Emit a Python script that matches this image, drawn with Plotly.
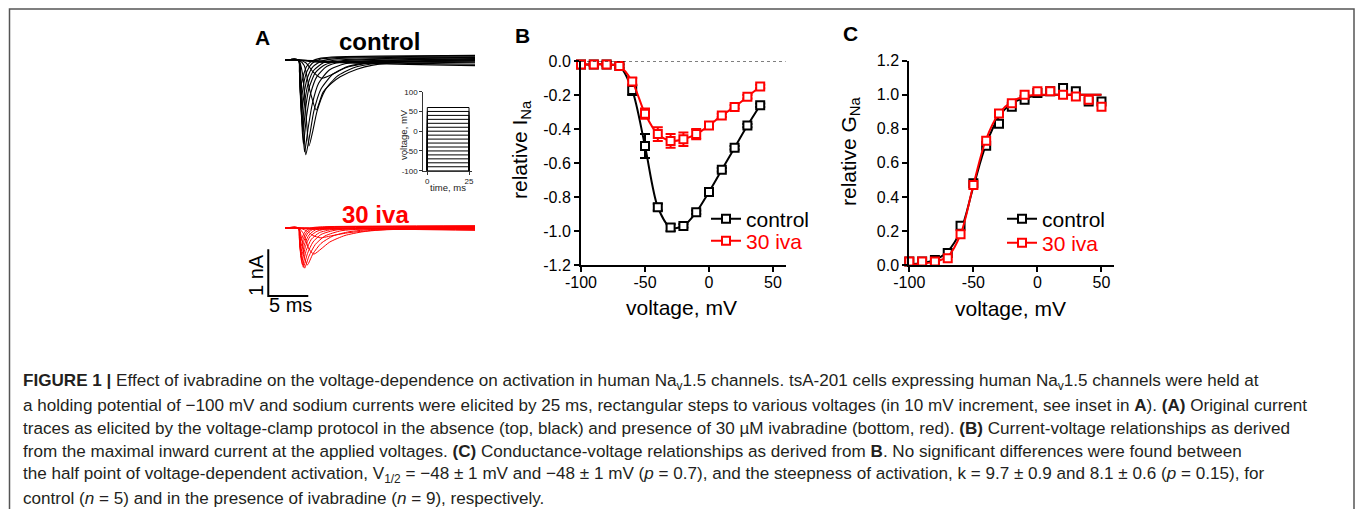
import plotly.graph_objects as go

# the page has no margin: the figure fills the 1355x509 window
PAGE_MARGIN = 0
FW, FH = 1355, 509
FONT = "Liberation Sans, Arial, Helvetica, sans-serif"
CAP_FONT = "Liberation Sans, Arial, sans-serif"
RED = "#ff0000"
BLACK = "#000000"

# ---------------- data ----------------
# Panel B: current-voltage relationship
VOLT_B = [-100, -90, -80, -70, -60, -50, -40, -30, -20, -10, 0, 10, 20, 30, 40]
I_CTRL = [-0.02, -0.02, -0.02, -0.03, -0.17, -0.50, -0.86, -0.98, -0.97, -0.89, -0.77, -0.64, -0.51, -0.38, -0.26]
I_CTRL_ERR = [0.01, 0.01, 0.01, 0.01, 0.03, 0.07, 0.02, 0.02, 0.01, 0.01, 0.01, 0.01, 0.01, 0.01, 0.01]
I_IVA = [-0.02, -0.02, -0.02, -0.03, -0.12, -0.31, -0.43, -0.47, -0.46, -0.43, -0.38, -0.32, -0.27, -0.21, -0.15]
I_IVA_ERR = [0.01, 0.01, 0.01, 0.01, 0.02, 0.03, 0.04, 0.04, 0.04, 0.03, 0.02, 0.01, 0.01, 0.01, 0.01]

# Panel C: conductance-voltage relationship
VOLT_C = [-100, -90, -80, -70, -60, -50, -40, -30, -20, -10, 0, 10, 20, 30, 40, 50]
G_CTRL = [0.02, 0.02, 0.03, 0.07, 0.23, 0.48, 0.70, 0.83, 0.93, 0.97, 1.01, 1.02, 1.04, 1.02, 0.96, 0.96]
G_IVA = [0.02, 0.02, 0.02, 0.04, 0.18, 0.47, 0.73, 0.89, 0.95, 1.00, 1.02, 1.02, 1.00, 0.99, 0.97, 0.93]
G_CTRL_FIT = [0.005, 0.012, 0.03, 0.08, 0.20, 0.46, 0.71, 0.87, 0.95, 0.98, 0.995, 1.0, 1.0, 1.0, 1.0, 1.0]
G_IVA_FIT = [0.003, 0.008, 0.02, 0.05, 0.18, 0.47, 0.74, 0.89, 0.96, 0.99, 1.0, 1.0, 1.0, 1.0, 1.0, 1.0]

B_YTICKS = [0.0, -0.2, -0.4, -0.6, -0.8, -1.0, -1.2]
B_YLABELS = ["0.0", "-0.2", "-0.4", "-0.6", "-0.8", "-1.0", "-1.2"]
C_YTICKS = [0.0, 0.2, 0.4, 0.6, 0.8, 1.0, 1.2]
C_YLABELS = ["0.0", "0.2", "0.4", "0.6", "0.8", "1.0", "1.2"]
V_TICKS = [-100, -50, 0, 50]
V_LABELS = ["-100", "-50", "0", "50"]

# Panel A inset: voltage protocol
STEP_VOLTAGES = [-100, -90, -80, -70, -60, -50, -40, -30, -20, -10, 0, 10, 20, 30, 40, 50, 60]
HOLDING_MV = -100
STEP_MS = 25
INSET_YTICKS = [-100, -50, 0, 50, 100]
INSET_YLABELS = ["-100", "-50", "0", "50", "100"]
INSET_XTICKS = [0, 25]

# Panel A: current traces (time in ms, current in nA), key points
CTRL_TRACES = {
    -100: [(0, 0), (1.7, 0), (6, -0.05), (23.75, -0.12)],
    -90: [(0, 0), (1.7, 0), (6, -0.04), (23.75, -0.09)],
    -80: [(0, 0), (1.7, 0), (6, -0.03), (23.75, -0.06)],
    -70: [(0, 0), (1.7, 0), (3, -0.03), (5, -0.05), (8, -0.03), (23.75, -0.04)],
    -60: [(0, 0), (1.7, 0), (2.6, -0.06), (3.6, -0.27), (4.6, -0.39), (6.0, -0.30), (7.5, -0.17), (10, -0.08), (13, -0.04), (23.75, -0.02)],
    -50: [(0, 0), (1.7, 0), (2.4, -0.12), (3.1, -0.65), (3.9, -1.07), (4.75, -0.69), (5.8, -0.50), (6.9, -0.36), (9, -0.20), (11, -0.11), (15, -0.04), (23.75, -0.01)],
    -40: [(0, 0), (1.7, 0), (2.2, -0.30), (2.6, -1.10), (3.0, -1.84), (3.5, -1.50), (4.0, -1.10), (5.0, -0.65), (6.5, -0.35), (8.5, -0.17), (11, -0.08), (15, -0.03), (23.75, 0.0)],
    -30: [(0, 0), (1.7, 0), (2.0, -0.40), (2.3, -1.30), (2.6, -2.03), (3.1, -1.60), (3.6, -1.10), (4.5, -0.62), (6.0, -0.30), (8.0, -0.13), (11, -0.05), (23.75, 0.01)],
    -20: [(0, 0), (1.7, 0), (1.95, -0.50), (2.2, -1.40), (2.45, -1.97), (2.9, -1.45), (3.4, -0.95), (4.2, -0.50), (5.5, -0.22), (7.5, -0.08), (10, -0.03), (23.75, 0.02)],
    -10: [(0, 0), (1.7, 0), (1.9, -0.60), (2.1, -1.35), (2.3, -1.80), (2.7, -1.20), (3.2, -0.72), (4.0, -0.35), (5.2, -0.14), (7.0, -0.05), (23.75, 0.03)],
    0: [(0, 0), (1.7, 0), (1.9, -0.60), (2.05, -1.15), (2.25, -1.54), (2.6, -1.00), (3.0, -0.60), (3.8, -0.27), (5.0, -0.10), (7.0, -0.02), (23.75, 0.05)],
    10: [(0, 0), (1.7, 0), (1.85, -0.50), (2.0, -1.00), (2.2, -1.28), (2.5, -0.85), (2.9, -0.50), (3.6, -0.22), (4.8, -0.06), (6.5, 0.0), (23.75, 0.06)],
    20: [(0, 0), (1.7, 0), (1.85, -0.45), (2.0, -0.85), (2.15, -1.03), (2.45, -0.65), (2.8, -0.38), (3.5, -0.14), (4.6, -0.02), (6.5, 0.03), (23.75, 0.07)],
    30: [(0, 0), (1.7, 0), (1.85, -0.35), (1.95, -0.60), (2.1, -0.75), (2.4, -0.45), (2.75, -0.24), (3.4, -0.07), (4.5, 0.02), (6.5, 0.05), (23.75, 0.09)],
    40: [(0, 0), (1.7, 0), (1.8, -0.25), (1.9, -0.42), (2.05, -0.51), (2.35, -0.30), (2.7, -0.14), (3.3, -0.03), (4.5, 0.04), (6.5, 0.07), (23.75, 0.10)],
}
IVA_TRACES = {
    -100: [(0, 0), (1.7, 0), (23.75, -0.05)],
    -90: [(0, 0), (1.7, 0), (23.75, -0.04)],
    -80: [(0, 0), (1.7, 0), (23.75, -0.03)],
    -70: [(0, 0), (1.7, 0), (3.5, -0.03), (8, -0.02), (23.75, -0.02)],
    -60: [(0, 0), (1.7, 0), (2.6, -0.05), (3.5, -0.16), (4.4, -0.21), (6, -0.16), (8, -0.10), (11, -0.05), (16, -0.02), (23.75, -0.01)],
    -50: [(0, 0), (1.7, 0), (2.3, -0.12), (3.0, -0.45), (3.6, -0.56), (4.5, -0.45), (5.6, -0.30), (7.5, -0.16), (9.75, -0.08), (13, -0.03), (23.75, 0.0)],
    -40: [(0, 0), (1.7, 0), (2.1, -0.25), (2.45, -0.65), (2.8, -0.79), (3.5, -0.55), (4.5, -0.33), (6, -0.17), (8, -0.08), (11, -0.03), (23.75, 0.0)],
    -30: [(0, 0), (1.7, 0), (1.95, -0.30), (2.2, -0.70), (2.45, -0.86), (3.0, -0.60), (3.8, -0.35), (5, -0.17), (7, -0.06), (10, -0.02), (23.75, 0.01)],
    -20: [(0, 0), (1.7, 0), (1.9, -0.35), (2.1, -0.70), (2.3, -0.84), (2.8, -0.55), (3.5, -0.30), (4.5, -0.14), (6.5, -0.04), (23.75, 0.01)],
    -10: [(0, 0), (1.7, 0), (1.85, -0.35), (2.0, -0.65), (2.2, -0.79), (2.65, -0.48), (3.3, -0.24), (4.3, -0.10), (6, -0.03), (23.75, 0.02)],
    0: [(0, 0), (1.7, 0), (1.85, -0.35), (2.0, -0.60), (2.15, -0.69), (2.55, -0.40), (3.1, -0.19), (4, -0.07), (5.5, -0.01), (23.75, 0.02)],
    10: [(0, 0), (1.7, 0), (1.8, -0.25), (1.95, -0.50), (2.1, -0.58), (2.5, -0.32), (3.0, -0.15), (3.8, -0.04), (5.5, 0.01), (23.75, 0.03)],
    20: [(0, 0), (1.7, 0), (1.8, -0.22), (1.9, -0.42), (2.05, -0.49), (2.4, -0.26), (2.9, -0.10), (3.6, -0.02), (5.5, 0.02), (23.75, 0.03)],
    30: [(0, 0), (1.7, 0), (1.8, -0.20), (1.9, -0.33), (2.0, -0.39), (2.35, -0.20), (2.8, -0.07), (3.6, 0.0), (5.5, 0.02), (23.75, 0.04)],
    40: [(0, 0), (1.7, 0), (1.78, -0.14), (1.87, -0.24), (1.95, -0.28), (2.3, -0.14), (2.7, -0.04), (3.5, 0.01), (5.5, 0.03), (23.75, 0.05)],
}
SCALE_NA = 1.0
SCALE_MS = 5.0
SCALE_ORIGIN = (-2.09, -1.456)  # corner of the scale bar (ms, nA)

CAPTION = [
    "<b>FIGURE 1 |</b> Effect of ivabradine on the voltage-dependence on activation in human Na<sub>v</sub>1.5 channels. tsA-201 cells expressing human Na<sub>v</sub>1.5 channels were held at",
    "a holding potential of \u2212100 mV and sodium currents were elicited by 25 ms, rectangular steps to various voltages (in 10 mV increment, see inset in <b>A</b>). <b>(A)</b> Original current",
    "traces as elicited by the voltage-clamp protocol in the absence (top, black) and presence of 30 \u00b5M ivabradine (bottom, red). <b>(B)</b> Current-voltage relationships as derived",
    "from the maximal inward current at the applied voltages. <b>(C)</b> Conductance-voltage relationships as derived from <b>B</b>. No significant differences were found between",
    "the half point of voltage-dependent activation, V<sub>1/2</sub> = \u221248 \u00b1 1 mV and \u221248 \u00b1 1 mV (<i>p</i> = 0.7), and the steepness of activation, k = 9.7 \u00b1 0.9 and 8.1 \u00b1 0.6 (<i>p</i> = 0.15), for",
    "control (<i>n</i> = 5) and in the presence of ivabradine (<i>n</i> = 9), respectively.",
]

# ---------------- helpers: page pixel -> paper coordinate ----------------
def px(x):
    return (x - PAGE_MARGIN) / FW

def py(y):
    return 1 - (y - PAGE_MARGIN) / FH

fig = go.Figure()

# Panel A traces
for v, pts in CTRL_TRACES.items():
    fig.add_trace(go.Scatter(x=[p[0] for p in pts], y=[p[1] for p in pts], mode="lines",
                             line=dict(color=BLACK, width=1.1, shape="spline", smoothing=0.6),
                             xaxis="x", yaxis="y", showlegend=False, hoverinfo="skip"))
for v, pts in IVA_TRACES.items():
    fig.add_trace(go.Scatter(x=[p[0] for p in pts], y=[p[1] for p in pts], mode="lines",
                             line=dict(color=RED, width=1.0, shape="spline", smoothing=0.6),
                             xaxis="x2", yaxis="y2", showlegend=False, hoverinfo="skip"))
# scale bar
sx, sy = SCALE_ORIGIN
fig.add_trace(go.Scatter(x=[sx, sx, sx + SCALE_MS], y=[sy + SCALE_NA, sy, sy], mode="lines",
                         line=dict(color=BLACK, width=2), xaxis="x2", yaxis="y2",
                         showlegend=False, hoverinfo="skip", cliponaxis=False))
# inset protocol
for v in STEP_VOLTAGES:
    fig.add_trace(go.Scatter(x=[0, 0, STEP_MS, STEP_MS], y=[HOLDING_MV, v, v, HOLDING_MV], mode="lines",
                             line=dict(color=BLACK, width=1), xaxis="x3", yaxis="y3",
                             showlegend=False, hoverinfo="skip", cliponaxis=False))

# Panel B
sq = dict(symbol="square", size=8, color="white")
fig.add_trace(go.Scatter(x=VOLT_B, y=I_CTRL, mode="lines+markers", name="control",
                         line=dict(color=BLACK, width=2, shape="spline", smoothing=0.8),
                         marker=dict(**sq, line=dict(color=BLACK, width=2)),
                         error_y=dict(type="data", array=I_CTRL_ERR, color=BLACK, thickness=2, width=5),
                         xaxis="x4", yaxis="y4", showlegend=False, cliponaxis=False))
fig.add_trace(go.Scatter(x=VOLT_B, y=I_IVA, mode="lines+markers", name="30 iva",
                         line=dict(color=RED, width=2, shape="spline", smoothing=0.8),
                         marker=dict(**sq, line=dict(color=RED, width=2)),
                         error_y=dict(type="data", array=I_IVA_ERR, color=RED, thickness=2, width=5),
                         xaxis="x4", yaxis="y4", showlegend=False, cliponaxis=False))

# Panel C
fig.add_trace(go.Scatter(x=VOLT_C, y=G_CTRL_FIT, mode="lines", line=dict(color=BLACK, width=2, shape="spline"),
                         xaxis="x5", yaxis="y5", showlegend=False, cliponaxis=False))
fig.add_trace(go.Scatter(x=VOLT_C, y=G_CTRL, mode="markers", marker=dict(**sq, line=dict(color=BLACK, width=2)),
                         xaxis="x5", yaxis="y5", showlegend=False, cliponaxis=False))
fig.add_trace(go.Scatter(x=VOLT_C, y=G_IVA_FIT, mode="lines", line=dict(color=RED, width=2, shape="spline"),
                         xaxis="x5", yaxis="y5", showlegend=False, cliponaxis=False))
fig.add_trace(go.Scatter(x=VOLT_C, y=G_IVA, mode="markers", marker=dict(**sq, line=dict(color=RED, width=2)),
                         xaxis="x5", yaxis="y5", showlegend=False, cliponaxis=False))

# legend entries (one legend per row)
for leg, name, col, ax in [("legend", "control", BLACK, "4"), ("legend2", "30 iva", RED, "4"),
                           ("legend3", "control", BLACK, "5"), ("legend4", "30 iva", RED, "5")]:
    fig.add_trace(go.Scatter(x=[None], y=[None], mode="lines+markers", name=name,
                             line=dict(color=col, width=2), marker=dict(**sq, line=dict(color=col, width=2)),
                             xaxis="x" + ax, yaxis="y" + ax, legend=leg, showlegend=True))

def legend_at(xpx, ypx, color):
    return dict(x=px(xpx), y=py(ypx), xanchor="left", yanchor="middle", bgcolor="rgba(0,0,0,0)",
                borderwidth=0, font=dict(family=FONT, size=21, color=color), itemwidth=30)

hidden = dict(visible=False, showgrid=False, zeroline=False)
axstyle = dict(showline=True, linecolor=BLACK, linewidth=2, ticks="outside", ticklen=5, tickwidth=2,
               tickcolor=BLACK, showgrid=False, zeroline=False, tickfont=dict(family=FONT, size=16, color=BLACK))
inset_style = dict(showline=True, linecolor="#333", linewidth=1, ticks="outside", ticklen=3, tickwidth=1,
                   tickcolor="#333", showgrid=False, zeroline=False, tickfont=dict(family=FONT, size=8, color="#222"))

PX_PER_MS, PX_PER_NA = 8.0, 46.7
fig.update_layout(
    width=FW, height=FH, margin=dict(l=0, r=0, t=0, b=0, autoexpand=False),
    paper_bgcolor="white", plot_bgcolor="rgba(0,0,0,0)",
    font=dict(family=FONT, color=BLACK),
    xaxis=dict(domain=[px(260), px(480)], range=[(260 - 285) / PX_PER_MS, (480 - 285) / PX_PER_MS], anchor="y", **hidden),
    yaxis=dict(domain=[py(175), py(40)], range=[-(175 - 60) / PX_PER_NA, (60 - 40) / PX_PER_NA], anchor="x", **hidden),
    xaxis2=dict(domain=[px(260), px(480)], range=[(260 - 285) / PX_PER_MS, (480 - 285) / PX_PER_MS], anchor="y2", **hidden),
    yaxis2=dict(domain=[py(310), py(200)], range=[-(310 - 228) / PX_PER_NA, (228 - 200) / PX_PER_NA], anchor="x2", **hidden),
    xaxis3=dict(domain=[px(423.3), px(471.7)], range=[-2.4, 26.6], anchor="y3", tickvals=INSET_XTICKS, **inset_style),
    yaxis3=dict(domain=[py(170.7), py(91.7)], range=[-100, 100], anchor="x3", tickvals=INSET_YTICKS,
                ticktext=INSET_YLABELS, **inset_style),
    xaxis4=dict(domain=[px(581), px(785.8)], range=[-100, 60], anchor="y4", tickvals=V_TICKS, ticktext=V_LABELS,
                ticklabelstandoff=-3, **axstyle),
    yaxis4=dict(domain=[py(265), py(61)], range=[-1.2, 0], anchor="x4", tickvals=B_YTICKS, ticktext=B_YLABELS, **axstyle),
    xaxis5=dict(domain=[px(909.3), px(1114.3)], range=[-100, 60], anchor="y5", tickvals=V_TICKS, ticktext=V_LABELS,
                ticklabelstandoff=-3, **axstyle),
    yaxis5=dict(domain=[py(265), py(60.7)], range=[0, 1.2], anchor="x5", tickvals=C_YTICKS, ticktext=C_YLABELS, **axstyle),
    legend=legend_at(706, 219, BLACK),
    legend2=legend_at(706, 241, RED),
    legend3=legend_at(1002, 219, BLACK),
    legend4=legend_at(1002, 243, RED),
)

# zero reference line in B
fig.add_shape(type="line", xref="x4", yref="y4", x0=-100, x1=60, y0=0, y1=0,
              line=dict(color=BLACK, width=1, dash="dot"))
# figure frame
fig.add_shape(type="rect", xref="paper", yref="paper", x0=px(9.5), x1=px(1354), y0=-0.1, y1=py(9),
              line=dict(color="#555", width=1.5))

def ann(text, x, y, size, color=BLACK, bold=False, angle=0, xanchor="center", family=FONT):
    fig.add_annotation(text=("<b>%s</b>" % text) if bold else text, x=px(x), y=py(y), xref="paper", yref="paper",
                       showarrow=False, xanchor=xanchor, yanchor="middle", textangle=angle,
                       font=dict(family=family, size=size, color=color))

ann("A", 262, 37, 21, bold=True)
ann("B", 522, 35, 21, bold=True)
ann("C", 850, 34, 21, bold=True)
ann("control", 380, 41, 24, bold=True)
ann("30 iva", 375, 214, 24, color=RED, bold=True)
ann("1 nA", 256, 275, 20, angle=-90)
ann("5 ms", 290, 305, 20)
ann("voltage, mV", 403, 135, 9.5, color="#222", angle=-90)
ann("time, ms", 448, 188, 9.5, color="#222")
ann("relative I<sub>Na</sub>", 521, 150, 21, angle=-90)
ann("relative G<sub>Na</sub>", 850, 152, 21, angle=-90)
ann("voltage, mV", 682, 307, 21)
ann("voltage, mV", 1010, 308, 21)

CAP_Y = [382, 405.3, 428.6, 451.9, 475.2, 498.5]
for line, yc in zip(CAPTION, CAP_Y):
    ann(line, 21, yc, 17.1, color="#231f20", xanchor="left", family=CAP_FONT)

fig.write_html("out.html")
